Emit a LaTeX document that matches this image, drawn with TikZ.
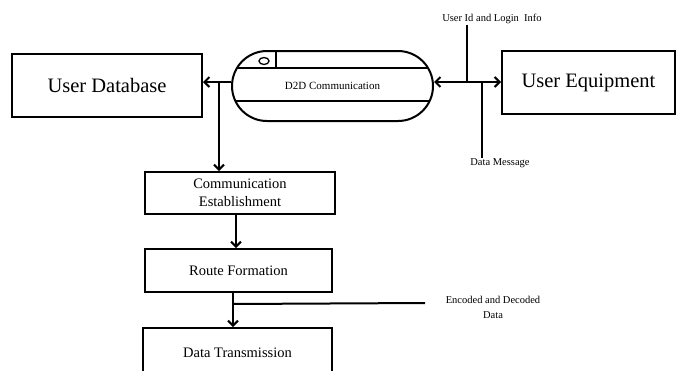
\documentclass[tikz,border=0pt]{standalone}
\usepackage{fontspec}
\setmainfont{Liberation Serif}
\usetikzlibrary{calc, arrows.meta, shapes.misc}

\begin{document}
\begin{tikzpicture}[x=1pt, y=-1pt,
    box/.style={draw, line width=2pt, inner sep=0pt},
    flow/.style={line width=2pt},
    arr/.style={flow, -{Straight Barb[length=5pt, width=10pt]}},
    biarr/.style={flow, {Straight Barb[length=5pt, width=10pt]}-{Straight Barb[length=5pt, width=10pt]}},
    lbl/.style={inner sep=0.5pt, font=\fontsize{10.5}{15}\selectfont, align=center}]
    \clip (0,0) rectangle (691,370);

    % the boxes
    \node[box, minimum width=190pt, minimum height=63pt, font=\fontsize{20.5}{24}\selectfont] (userdb) at (107,85.5) {User Database};
    \node[box, minimum width=173pt, minimum height=63pt, font=\fontsize{20.5}{24}\selectfont] (usereq) at (588.5,82.5) {User Equipment};
    \node[box, rounded rectangle, minimum width=201pt, minimum height=70pt, font=\fontsize{11}{13}\selectfont] (d2d) at (332.5,86) {D2D Communication};
    \node[box, minimum width=190pt, minimum height=42pt, align=center, font=\fontsize{14.5}{18}\selectfont] (commest) at (240,193) {Communication\\Establishment};
    \node[box, minimum width=187pt, minimum height=43pt, font=\fontsize{14.5}{18}\selectfont] (routef) at (238.5,270.5) {Route Formation};
    \node[box, minimum width=189pt, minimum height=50pt, font=\fontsize{14.5}{18}\selectfont] (datatx) at (237.5,353) {Data Transmission};

    % inside the store
    \draw[line width=1.7pt] ($(d2d.center)+(-95.5,-18)$) -- ($(d2d.center)+(95.5,-18)$);
    \draw[line width=1.7pt] ($(d2d.center)+(-96.9,15)$) -- ($(d2d.center)+(96.9,15)$);
    \draw[line width=1.7pt] ($(d2d.center)+(-56.5,-35)$) -- ($(d2d.center)+(-56.5,-18)$);
    \draw[line width=1.3pt] ($(d2d.center)+(-68.5,-25)$) ellipse (5pt and 3.5pt);

    % labels
    \node[lbl] (loginfo) at (492,19) {User Id and Login\ \ Info};
    \node[lbl] (datamsg) at (500,163) {Data Message};
    \node[lbl] (encdec) at (493,307.5) {Encoded and Decoded\\Data};

    \coordinate (dbjoin) at (219,82);
    \coordinate (loginjoin) at (467,82);
    \coordinate (msgjoin) at (482,82);
    \coordinate (encjoin) at (233,304);
    \coordinate (encend) at (425,303);

    % connectors
    \draw[arr] (d2d.west |- dbjoin) -- (userdb.east |- dbjoin);
    \draw[arr] (dbjoin) -- (dbjoin |- commest.north);
    \draw[biarr] (d2d.east |- loginjoin) -- (usereq.west |- loginjoin);
    \draw[flow] (loginjoin |- loginfo.south) -- (loginjoin);
    \draw[flow] (msgjoin) -- (msgjoin |- datamsg.north);
    \draw[arr] ([xshift=-4pt]commest.south) -- ([xshift=-4pt]commest.south |- routef.north);
    \draw[arr] ([xshift=-5.5pt]routef.south) -- ([xshift=-5.5pt]routef.south |- datatx.north);
    \draw[flow] (encjoin) -- (encend);
\end{tikzpicture}
\end{document}
